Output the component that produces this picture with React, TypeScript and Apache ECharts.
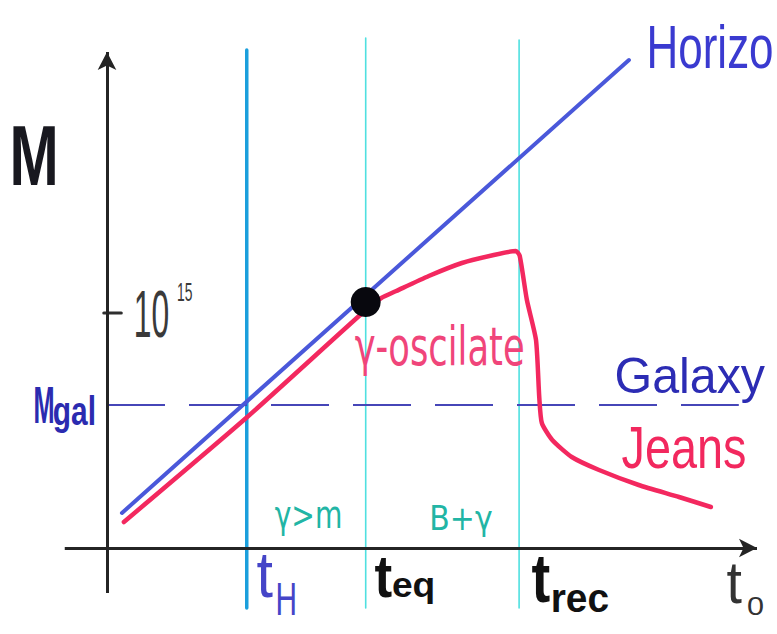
import React, { useEffect, useRef } from 'react';
import * as echarts from 'echarts';

const FONT = '"Liberation Sans", "DejaVu Sans", sans-serif';
const GREEK_FONT = '"DejaVu Sans", sans-serif';

// Sketch coordinates: x = log time, y = log mass (arbitrary units)
const horizonLine: number[][] = [
  [0.23, 0.7],
  [8.03, 9.76],
];

const jeansCurve: number[][] = [
  [0.26, 0.52],
  [2.14, 2.6],
  [3.98, 4.76],
  [4.22, 5.0],
  [4.45, 5.14],
  [4.95, 5.44],
  [5.46, 5.7],
  [5.95, 5.86],
  [6.29, 5.94],
  [6.35, 5.84],
  [6.46, 4.96],
  [6.6, 4.16],
  [6.65, 3.02],
  [6.69, 2.5],
  [6.85, 2.16],
  [7.15, 1.82],
  [7.57, 1.56],
  [8.18, 1.26],
  [8.8, 1.02],
  [9.29, 0.82],
];

// Horizon crossing at matter-radiation equality
const equalityPoint: number[][] = [[3.98, 4.92]];

// Galaxy mass level and the 10^15 tick
const galaxyMass = 2.86;
const galaxyMassEnd = 9.72;
const massTick = 4.7;

// Epoch markers: horizon entry, equality, recombination
const epochTimes = [2.15, 3.98, 6.34];
const epochLineTops = [9.96, 10.2, 10.16];
const epochLineBottom = -1.2;

// Axis extents
const timeAxisStart = -0.65;
const timeAxisEnd = 10;
const massAxisStart = -0.9;
const massAxisEnd = 9.92;

const epochStyles = [
  { color: '#1b9fdc', width: 3.5 },
  { color: '#4fe0e0', width: 1.6 },
  { color: '#4fe0e0', width: 1.6 },
];

type Label = [string, number, number, number, number, string, string?];

// [text, left, top, right, baseline, colour, weight]
const labels: Label[] = [
  ['M', 13, 125, 55, 185, '#18181f', 'bold'],
  ['10', 136, 290, 168, 337, '#3a3a3a'],
  ['15', 178, 283, 192, 301, '#3a3a3a'],
  ['M', 35, 387, 53, 423, '#2b2bb0', 'bold'],
  ['gal', 54, 395, 94, 425, '#2b2bb0', 'bold'],
  ['Horizo', 650, 24, 772, 68, '#3a3ad0'],
  ['Galaxy', 617, 356, 765, 393, '#2c2cb4'],
  ['Jeans', 622, 427, 745, 468, '#f2285e'],
  ['γ-oscilate', 355, 324, 523, 365, '#f0457a'],
  ['γ>m', 275, 506, 340, 528, '#22b5a5'],
  ['B+γ', 432, 505, 492, 530, '#22b5a5'],
  ['t', 257, 555, 273, 597, '#4545c8'],
  ['H', 278, 583, 295, 615, '#4545c8'],
  ['t', 375, 558, 392, 597, '#111111', 'bold'],
  ['eq', 393, 578, 433, 597, '#111111', 'bold'],
  ['t', 532, 557, 550, 602, '#111111', 'bold'],
  ['rec', 553, 590, 608, 612, '#111111', 'bold'],
  ['t', 727, 565, 742, 603, '#333333'],
  ['0', 748, 597, 763, 615, '#333333'],
];

// Fit a text's ink box between left/right and top/baseline
function fitText(ctx: CanvasRenderingContext2D, l: Label) {
  const [text, left, top, right, baseline, color, weight = 'normal'] = l;
  const family = text.includes('γ') ? GREEK_FONT : FONT;
  const ref = 100;
  ctx.font = `${weight} ${ref}px ${family}`;
  const m = ctx.measureText(text);
  const asc = m.actualBoundingBoxAscent || 73;
  const fs = (ref * (baseline - top)) / asc;
  const k = fs / ref;
  const inkW = (m.actualBoundingBoxLeft + m.actualBoundingBoxRight) * k;
  const sx = (right - left) / inkW;
  const fa = m.fontBoundingBoxAscent ?? 93;
  const fd = m.fontBoundingBoxDescent ?? 24;
  const central = ((fa - fd) / 2) * k;
  return {
    type: 'text',
    x: left + m.actualBoundingBoxLeft * k * sx,
    y: baseline - central,
    scaleX: sx,
    silent: true,
    z: 20,
    style: {
      text,
      fill: color,
      fontSize: fs,
      fontWeight: weight,
      fontFamily: family,
      align: 'left',
      verticalAlign: 'middle',
    },
  };
}

export default function App() {
  const ref = useRef<HTMLDivElement>(null);

  useEffect(() => {
    if (!ref.current) return;
    const chart = echarts.init(ref.current, undefined, { renderer: 'svg' });
    const ctx = document.createElement('canvas').getContext('2d') as CanvasRenderingContext2D;

    const epochSeries = epochTimes.map((t, i) => ({
      type: 'line',
      data: [
        [t, epochLineBottom],
        [t, epochLineTops[i]],
      ],
      symbol: 'none',
      silent: true,
      z: 1,
      lineStyle: { color: epochStyles[i].color, width: epochStyles[i].width, cap: 'round' },
    }));

    chart.setOption({
      animation: false,
      backgroundColor: '#ffffff',
      grid: { left: 42, right: 20, top: 28, bottom: 6 },
      xAxis: { type: 'value', min: -1, max: 10, show: false },
      yAxis: { type: 'value', min: -1.6, max: 10.4, show: false },
      graphic: labels.map((l) => fitText(ctx, l)),
      series: [
        ...epochSeries,
        {
          type: 'line',
          data: [
            [0, galaxyMass],
            [galaxyMassEnd, galaxyMass],
          ],
          symbol: 'none',
          silent: true,
          z: 2,
          lineStyle: { color: '#4646b8', width: 2, type: [58, 24] },
        },
        {
          type: 'line',
          data: [
            [-0.05, massTick],
            [0.22, massTick],
          ],
          symbol: 'none',
          silent: true,
          z: 3,
          lineStyle: { color: '#2e2e2e', width: 3, cap: 'round' },
        },
        {
          type: 'line',
          data: [[0, 0]],
          symbol: 'none',
          silent: true,
          z: 4,
          lineStyle: { opacity: 0 },
          markLine: {
            silent: true,
            animation: false,
            symbol: ['none', 'arrow'],
            symbolSize: [14, 18],
            label: { show: false },
            emphasis: { disabled: true },
            lineStyle: { color: '#242424', width: 3, type: 'solid' },
            data: [
              [{ coord: [timeAxisStart, 0] }, { coord: [timeAxisEnd, 0] }],
              [{ coord: [0, massAxisStart] }, { coord: [0, massAxisEnd] }],
            ],
          },
        },
        {
          name: 'Horizon',
          type: 'line',
          data: horizonLine,
          symbol: 'none',
          silent: true,
          z: 5,
          lineStyle: { color: '#4a58da', width: 4, cap: 'round' },
        },
        {
          name: 'Jeans',
          type: 'line',
          data: jeansCurve,
          smooth: 0.2,
          symbol: 'none',
          silent: true,
          z: 6,
          lineStyle: { color: '#f3285f', width: 4.5, cap: 'round', join: 'round' },
        },
        {
          type: 'scatter',
          data: equalityPoint,
          symbol: 'circle',
          symbolSize: 30,
          silent: true,
          z: 7,
          itemStyle: { color: '#08080e', opacity: 1 },
        },
      ],
    });

    return () => chart.dispose();
  }, []);

  return (
    <div
      ref={ref}
      style={{ position: 'fixed', left: 0, top: 0, width: 777, height: 634, background: '#fff' }}
    />
  );
}
